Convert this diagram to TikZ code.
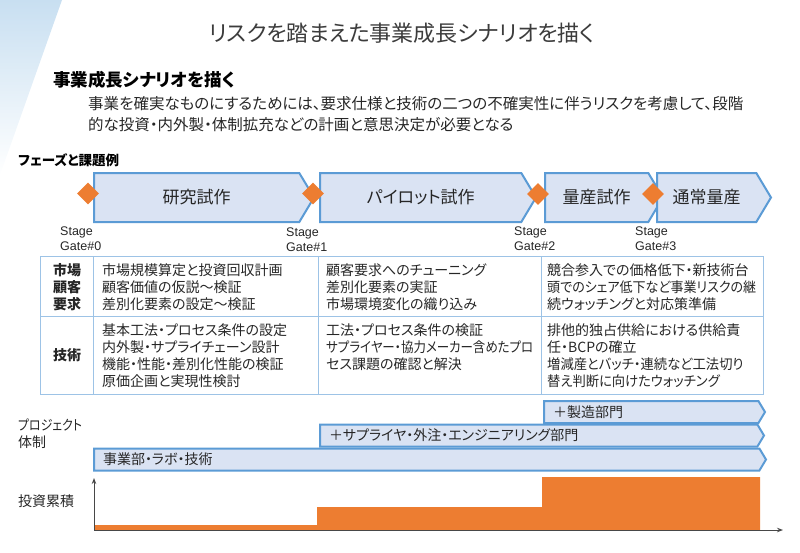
\documentclass[tikz,border=0pt]{standalone}
\usepackage{fontspec}
\setmainfont{Noto Sans CJK JP}[RawFeature=+palt]
\newfontfamily\latinfont{Liberation Sans}
\usepackage{xcolor}
\usepackage{tikz}
\usetikzlibrary{shapes.geometric, shapes.symbols, arrows.meta, positioning, calc}

\definecolor{phasefill}{HTML}{DAE3F3}
\definecolor{phaseline}{HTML}{5B9BD5}
\definecolor{gateorange}{HTML}{ED7D31}
\definecolor{gridblue}{HTML}{9DC3E6}
\definecolor{inktext}{HTML}{262626}
\definecolor{bandblue}{HTML}{C8DFF1}

% narrower setting for long katakana lines
\newcommand{\narrow}[2]{{\addfontfeature{FakeStretch=#1}#2}}

\begin{document}
\begin{tikzpicture}[
    x=1pt, y=-1pt,
    phase/.style={signal, signal to=east, signal pointer angle=118, draw=phaseline, line width=2pt, fill=phasefill, anchor=west, minimum height=49pt, inner sep=0pt, font=\fontsize{17}{20}\selectfont, text=inktext},
    gate/.style={diamond, fill=gateorange, minimum width=22pt, minimum height=22pt, inner sep=0pt},
    stagelabel/.style={anchor=west, align=left, inner sep=0pt, font=\latinfont\fontsize{12.5}{15}\selectfont, text=inktext},
    cell/.style={anchor=west, align=left, inner sep=0pt, font=\fontsize{14}{17}\selectfont, text=inktext},
    rowhead/.style={align=center, inner sep=0pt, font=\bfseries\fontsize{14}{17}\selectfont, text=inktext},
    tableline/.style={draw=gridblue, line width=1pt},
    team/.style={signal, signal to=east, signal pointer angle=118, draw=phaseline, line width=2pt, fill=phasefill, anchor=west, minimum height=22pt, inner xsep=9pt, inner ysep=0pt, align=left, font=\fontsize{14}{17}\selectfont, text=inktext},
    sidelabel/.style={anchor=west, align=left, inner sep=0pt, font=\fontsize{14}{17}\selectfont, text=inktext},
    axisline/.style={-{Stealth[length=6pt, width=4.5pt]}, draw=inktext!85, line width=1pt}
]
\useasboundingbox (0,0) rectangle (800,552);

% Background band
\shade[top color=bandblue, bottom color=white] (0,0) -- (62,0) -- (0,175) -- cycle;

% Title and lead text
\node[inner sep=0pt, font=\fontsize{22}{26}\selectfont, text=inktext!90] (title) at (402,33) {リスクを踏まえた事業成長シナリオを描く};
\node[anchor=west, inner sep=0pt, font=\bfseries\fontsize{17.5}{21}\selectfont, text=black] (subtitle) at (53,80) {事業成長シナリオを描く};
\node[anchor=west, align=left, inner sep=0pt, font=\fontsize{15.5}{21}\selectfont, text=inktext] (lead) at (88,114.5) {事業を確実なものにするためには、要求仕様と技術の二つの不確実性に伴うリスクを考慮して、段階\\的な投資・内外製・体制拡充などの計画と意思決定が必要となる};

% Phases
\node[sidelabel, font=\bfseries\fontsize{13.5}{16}\selectfont, text=black] (phaselbl) at (18,160) {フェーズと課題例};
\node[phase, minimum width=220pt] (proto) at (93,197.5) {研究試作};
\node[phase, minimum width=216pt] (pilot) at (319,197.5) {パイロット試作};
\node[phase, minimum width=118pt] (trial) at (544,197.5) {量産試作};
\node[phase, minimum width=114pt] (mass) at (656,197.5) {通常量産};

% Stage gates
\node[gate] (gate0) at (88,193.5) {};
\node[gate] (gate1) at (313,193.5) {};
\node[gate] (gate2) at (538,194) {};
\node[gate] (gate3) at (653,194) {};
\node[stagelabel] (sg0) at (60,238.5) {Stage\\Gate\#0};
\node[stagelabel] (sg1) at (286,239.5) {Stage\\Gate\#1};
\node[stagelabel] (sg2) at (514,238.5) {Stage\\Gate\#2};
\node[stagelabel] (sg3) at (635,238.5) {Stage\\Gate\#3};

% Table of issues
\draw[tableline] (40,256) rectangle (763,394);
\draw[tableline] (40,316) -- (763,316);
\foreach \cx in {93,318,541}
    \draw[tableline] (\cx,256) -- (\cx,394);

\node[rowhead] (market) at (67,287) {市場\\顧客\\要求};
\node[rowhead] (tech) at (67,355) {技術};

\node[cell] (m1) at (102,287) {市場規模算定と投資回収計画\\顧客価値の仮説～検証\\差別化要素の設定～検証};
\node[cell] (m2) at (326,287) {顧客要求へのチューニング\\差別化要素の実証\\市場環境変化の織り込み};
\node[cell] (m3) at (547,287) {競合参入での価格低下・新技術台\\\narrow{0.93}{頭でのシェア低下など事業リスクの継}\\続ウォッチングと対応策準備};
\node[cell] (t1) at (102,355.5) {基本工法・プロセス条件の設定\\内外製・サプライチェーン設計\\機能・性能・差別化性能の検証\\原価企画と実現性検討};
\node[cell] (t2) at (326,347) {工法・プロセス条件の検証\\\narrow{0.89}{サプライヤー・協力メーカー含めたプロ}\\セス課題の確認と解決};
\node[cell] (t3) at (547,355.5) {排他的独占供給における供給責\\任・BCPの確立\\\narrow{0.95}{増減産とバッチ・連続など工法切り}\\\narrow{0.95}{替え判断に向けたウォッチング}};

% Project organisation
\node[sidelabel] (orglbl) at (18,433.5) {\narrow{0.85}{プロジェクト}\\体制};
\node[team, text width=647.4pt] (org_base) at (93,459.5) {事業部・ラボ・技術};
\node[team, text width=419.4pt] (org_supply) at (319,435.5) {＋サプライヤ・外注・エンジニアリング部門};
\node[team, text width=196.4pt] (org_mfg) at (543,412) {＋製造部門};

% Cumulative investment
\node[sidelabel] (investlbl) at (18,501) {投資累積};
\fill[gateorange] (94,530) -- (94,525) -- (317,525) -- (317,507) -- (542,507) -- (542,477) -- (760,477) -- (760,530) -- cycle;
\coordinate (origin) at (94,530);
\coordinate (ytip) at (94,478);
\coordinate (xtip) at (783,530);
\draw[axisline] (origin) -- (ytip);
\draw[axisline] (origin) -- (xtip);

\end{tikzpicture}
\end{document}
